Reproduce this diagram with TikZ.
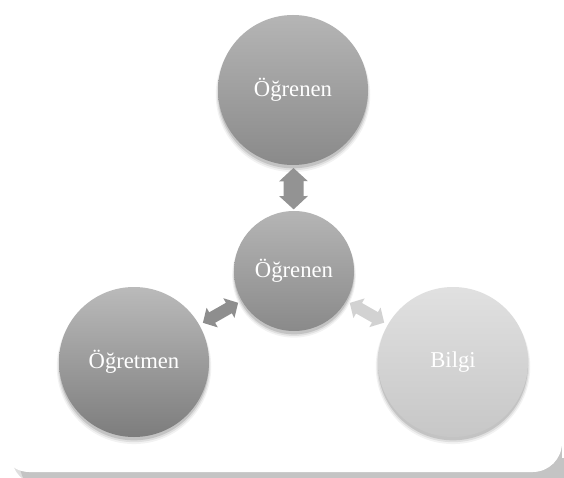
\documentclass[tikz,border=0pt]{standalone}
\usepackage{fontspec}
\setmainfont{Liberation Serif}
\usetikzlibrary{arrows.meta,shadows}

\definecolor{cardshadow}{HTML}{C4C4C4}
\definecolor{arrowdark}{HTML}{939393}
\definecolor{arrowmid}{HTML}{8E8E8E}
\definecolor{arrowlight}{HTML}{D2D2D2}

\tikzset{
  softshadow/.style={
    general shadow={shadow yshift=-3.5pt, shadow scale=1.03, fill=black, opacity=0.05},
    general shadow={shadow yshift=-3pt, shadow scale=1.015, fill=black, opacity=0.08},
    general shadow={shadow yshift=-2.5pt, shadow scale=1.0, fill=black, opacity=0.12}},
  ball/.style={circle, inner sep=0pt, minimum size=#1, softshadow,
    text=white, font=\fontsize{17}{20}\selectfont},
  darkball/.style={ball=#1, top color=black!29, bottom color=black!46},
  deepball/.style={ball=#1, top color=black!27, bottom color=black!51},
  paleball/.style={ball=#1, top color=black!12, bottom color=black!22},
  bigarrow/.style={line width=15pt, draw=arrowdark,
    {Triangle[width=21pt,length=10pt]}-{Triangle[width=21pt,length=10pt]},
    shorten <=2pt, shorten >=1pt},
  slimarrow/.style={line width=9pt, draw=#1,
    {Triangle[width=16.5pt,length=8pt]}-{Triangle[width=16.5pt,length=8pt]},
    shorten <=3pt, shorten >=3pt}
}

\begin{document}
\begin{tikzpicture}[x=0.75pt, y=-0.75pt]
  % page frame: white card with a grey shadow along its lower edge
  \useasboundingbox (0,0) rectangle (564,478);
  \fill[cardshadow!55, rounded corners=20] (12,0) rectangle (584,484);
  \fill[cardshadow, rounded corners=20] (20,0) rectangle (590,492);
  \fill[white] (0,-20) [rounded corners=22] -- (0,472) -- (562,472) [sharp corners] -- (562,-20) -- cycle;
  \fill[white] (562,-20) rectangle (570,458);

  % circles
  \node[darkball=112.5pt] (learnerTop) at (293,90) {Öğrenen};
  \node[darkball=90pt]    (learner)    at (294,271) {Öğrenen};
  \node[deepball=112.5pt] (teacher)    at (134,362) {Öğretmen};
  \node[paleball=112.5pt] (knowledge)  at (453,362) {Bilgi};

  % two-way links
  \draw[bigarrow] (learnerTop) -- (learner);
  \draw[slimarrow=arrowmid] (learner) -- (teacher);
  \draw[slimarrow=arrowlight] (learner) -- (knowledge);
\end{tikzpicture}
\end{document}
